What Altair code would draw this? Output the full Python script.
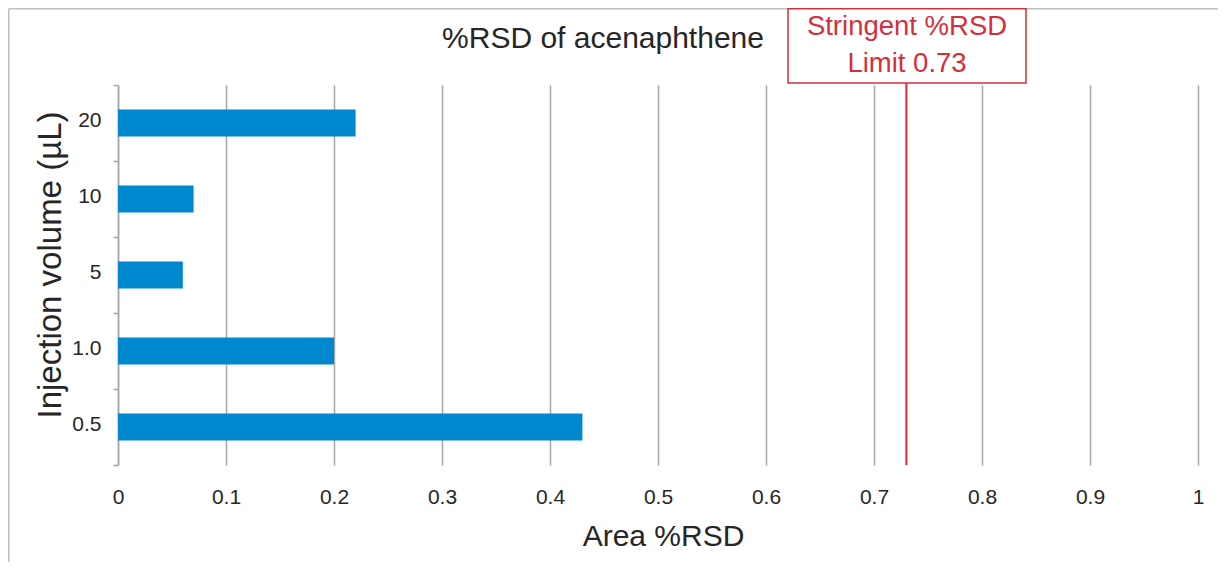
import altair as alt
import pandas as pd

volumes = ["20", "10", "5", "1.0", "0.5"]
rsd_values = [0.22, 0.07, 0.06, 0.20, 0.43]
limit_value = [0.73]
x_ticks = [0, 0.1, 0.2, 0.3, 0.4, 0.5, 0.6, 0.7, 0.8, 0.9, 1]

FONT = "Liberation Sans"
TXT = "#262626"
RED = "#d42f3b"
GRID = "#a6a6a6"
BLUE = "#0088ce"
FRAME = "#bfbfbf"

bars_df = pd.DataFrame({"vol": volumes, "rsd": rsd_values})
limit_df = pd.DataFrame({"rsd": limit_value})
one = pd.DataFrame({"k": [0]})

x_enc = alt.X(
    "rsd:Q",
    scale=alt.Scale(domain=[0, 1], nice=False, zero=True),
    axis=alt.Axis(
        values=x_ticks,
        format="~g",
        grid=True,
        gridColor=GRID,
        gridWidth=1.5,
        domain=False,
        ticks=False,
        labelFlush=False,
        labelFontSize=21,
        labelFont=FONT,
        labelColor=TXT,
        labelPadding=21,
        title="Area %RSD",
        titleFont=FONT,
        titleFontSize=30,
        titleFontWeight="normal",
        titleColor=TXT,
        titleX=545,
        titleY=80,
        titleAlign="center",
        titleBaseline="alphabetic",
    ),
)

bars = alt.Chart(bars_df).mark_bar(color=BLUE, size=27).encode(
    x=x_enc,
    y=alt.Y(
        "vol:N",
        sort=volumes,
        scale=alt.Scale(paddingInner=0, paddingOuter=0),
        axis=alt.Axis(
            title=None,
            domain=True,
            domainColor=GRID,
            domainWidth=1.5,
            ticks=True,
            tickColor=GRID,
            tickWidth=1.5,
            tickSize=5,
            tickBand="extent",
            grid=False,
            labelFontSize=21,
            labelFont=FONT,
            labelColor=TXT,
            labelPadding=12,
            labelOffset=-3,
        ),
    ),
)

limit_rule = alt.Chart(limit_df).mark_rule(color=RED, strokeWidth=2).encode(
    x=alt.X("rsd:Q"),
    y=alt.value(-2),
    y2=alt.value(380),
)

box = alt.Chart(one).mark_rect(fill="white", stroke=RED, strokeWidth=1.5).encode(
    x=alt.value(670), x2=alt.value(908), y=alt.value(-76.25), y2=alt.value(-2)
)

box_line1 = alt.Chart(one).mark_text(
    text="Stringent %RSD", font=FONT, fontSize=27.5, color=RED, align="center", baseline="alphabetic"
).encode(x=alt.value(789), y=alt.value(-50))

box_line2 = alt.Chart(one).mark_text(
    text="Limit 0.73", font=FONT, fontSize=27.5, color=RED, align="center", baseline="alphabetic"
).encode(x=alt.value(789), y=alt.value(-13))

title = alt.Chart(one).mark_text(
    text="%RSD of acenaphthene", font=FONT, fontSize=30, color=TXT, align="center", baseline="alphabetic"
).encode(x=alt.value(485), y=alt.value(-37))

y_title = alt.Chart(one).mark_text(
    text="Injection volume (µL)", font=FONT, fontSize=33, color=TXT, align="center",
    baseline="alphabetic", angle=270
).encode(x=alt.value(-57), y=alt.value(180))

frame_top = alt.Chart(one).mark_rule(color=FRAME, strokeWidth=1.5, clip=False).encode(
    x=alt.value(-109.25), x2=alt.value(1100), y=alt.value(-76.25)
)
frame_left = alt.Chart(one).mark_rule(color=FRAME, strokeWidth=1.5, clip=False).encode(
    x=alt.value(-109.25), y=alt.value(-76.25), y2=alt.value(477)
)

chart = alt.layer(
    frame_top, frame_left, bars, limit_rule, box, box_line1, box_line2, title, y_title
).properties(
    width=1080,
    height=380,
    autosize=alt.AutoSizeParams(type="none"),
    padding={"left": 110, "top": 77, "right": 20, "bottom": 97},
    background="white",
).configure_view(stroke=None)

chart.save("out.html", embed_options={"renderer": "svg", "actions": False})
